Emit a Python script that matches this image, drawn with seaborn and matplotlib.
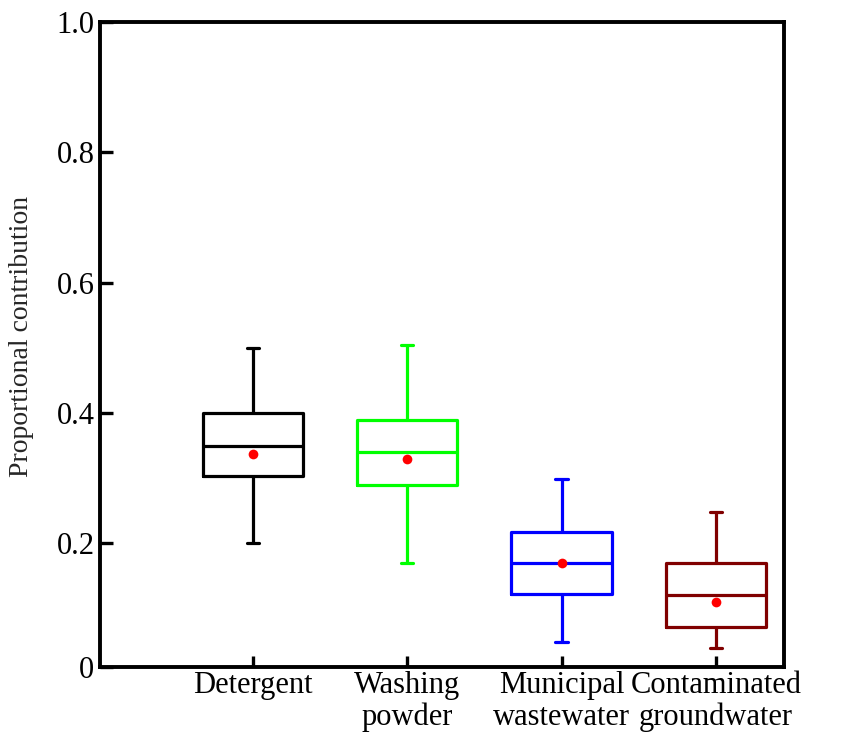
import numpy as np
import pandas as pd
import matplotlib
matplotlib.use("Agg")
import matplotlib.pyplot as plt
import seaborn as sns

# ----------------------------------------------------
# DATA
# ----------------------------------------------------
categories = ["Detergent", "Washing\npowder", "Municipal\nwastewater", "Contaminated\ngroundwater"]
whisker_low = [0.20, 0.170, 0.049, 0.039]
q1 = [0.303, 0.290, 0.122, 0.072]
median = [0.350, 0.340, 0.170, 0.121]
q3 = [0.400, 0.389, 0.217, 0.170]
whisker_high = [0.500, 0.505, 0.299, 0.248]
means = [0.337, 0.330, 0.170, 0.110]
box_colors = ["#000000", "#00ff00", "#0000ff", "#800000"]
ytick_values = [0.2, 0.4, 0.6, 0.8, 1.0]
ytick_labels = ["0.2", "0.4", "0.6", "0.8", "1.0"]

# five values per group -> exact quartiles / whisker ends with whis=(0, 100)
rows = []
for i, cat in enumerate(categories):
    for v in (whisker_low[i], q1[i], median[i], q3[i], whisker_high[i]):
        rows.append({"source": cat, "value": v})
df = pd.DataFrame(rows)

# ----------------------------------------------------
# PLOT
# ----------------------------------------------------
sns.set_style("ticks")
plt.rcParams["font.family"] = ["Liberation Serif", "DejaVu Serif"]

fig = plt.figure(figsize=(8.48, 7.32), dpi=100)
ax = fig.add_axes([0.1179, 0.0888, 0.8066, 0.8812])

sns.boxplot(
    data=df, x="source", y="value", hue="source", order=categories,
    hue_order=categories, palette=box_colors, fill=False, legend=False,
    width=0.65, linewidth=2.3, whis=(0, 100), capwidths=0.08, ax=ax,
)
sns.stripplot(
    x=categories, y=means, color="red", jitter=False, size=7,
    order=categories, zorder=5, ax=ax,
)

y_bottom = 0.0103
ax.set_ylim(y_bottom, 1.0)
ax.set_xlim(-0.99, 3.44)
ax.set_yticks([y_bottom] + ytick_values)
ax.set_yticklabels(["0"] + ytick_labels)
ax.set_xticks(range(len(categories)))
ax.set_xticklabels(categories, linespacing=1.12)

ax.tick_params(axis="both", direction="in", width=2.4, colors="black")
ax.tick_params(axis="y", length=9, pad=4, labelsize=22)
ax.tick_params(axis="x", length=8, pad=3, labelsize=22)

for side in ["left", "right", "top", "bottom"]:
    ax.spines[side].set_visible(True)
    ax.spines[side].set_linewidth(2.8)
    ax.spines[side].set_color("black")

ax.set_xlabel("")
ax.set_ylabel("Proportional contribution", fontsize=20)
ax.yaxis.set_label_coords(-0.097, 0.513)

plt.savefig("out.png", dpi=100)
plt.close()
